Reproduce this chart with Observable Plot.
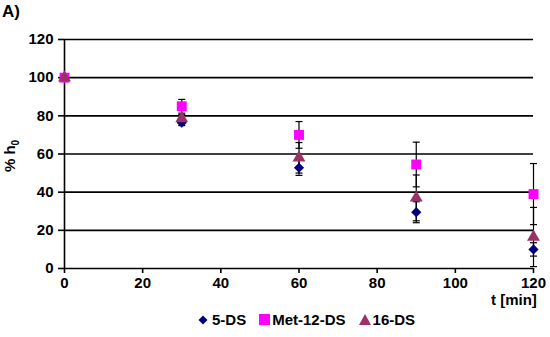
<!DOCTYPE html>
<html><head><meta charset="utf-8">
<script src="https://cdn.jsdelivr.net/npm/d3@7"></script>
<script src="https://cdn.jsdelivr.net/npm/@observablehq/plot@0.6"></script>
<style>
body{margin:0;background:#fff;}
#wrap{position:relative;width:550px;height:337px;font-family:"Liberation Sans",Arial,sans-serif;font-weight:bold;color:#000;}
.lbl{position:absolute;font-size:15px;white-space:nowrap;}
#legend{position:absolute;left:198px;top:311px;font-size:15px;display:flex;align-items:center;white-space:nowrap;}
#legend span{display:inline-flex;align-items:center;margin-right:13px;}
#legend svg{margin-right:2px;}
</style></head>
<body><div id="wrap"></div>
<script>
const times = [0, 30, 60, 90, 120];
const seriesNames = ["5-DS", "Met-12-DS", "16-DS"];
const ds5 = [100, 76.4, 52.8, 29.5, 10];
const ds5Err = [0, 1.5, 4, 5.5, 3.5];
const met12 = [100, 85, 70, 54.5, 39];
const met12Err = [0, 3.6, 7, 11.7, 16];
const ds16 = [100, 78.6, 58, 37, 16.5];
const ds16Err = [0, 2, 8, 12, 15.5];
const colors = ["#000080", "#FF00FF", "#993366"];
const yTicks = [0, 20, 40, 60, 80, 100, 120];
const xTicks = [0, 20, 40, 60, 80, 100, 120];

const vals = [ds5, met12, ds16];
const errs = [ds5Err, met12Err, ds16Err];
const rows = [];
seriesNames.forEach((s, i) => times.forEach((t, j) => rows.push({s, t, v: vals[i][j], e: errs[i][j]})));
const withErr = rows.filter(d => d.e > 0);
const cap = {draw(ctx, size){ const w = Math.sqrt(size / Math.PI); ctx.moveTo(-w, 0); ctx.lineTo(w, 0); }};
const sym = {"5-DS": "diamond2", "Met-12-DS": "square", "16-DS": "triangle"};
const rad = {"5-DS": 4.6, "Met-12-DS": 5.6, "16-DS": 4.8};

const chart = Plot.plot({
  width: 550, height: 337,
  marginLeft: 64, marginRight: 17, marginTop: 39, marginBottom: 69,
  style: {fontFamily: "'Liberation Sans', Arial, sans-serif", fontWeight: "bold", fontSize: "15px", color: "#000", background: "#fff"},
  x: {domain: [0, 120]},
  y: {domain: [0, 120]},
  marks: [
    Plot.gridY(yTicks, {stroke: "#000", strokeOpacity: 1, strokeWidth: 1.6}),
    Plot.ruleX([0], {stroke: "#000", strokeWidth: 1.6}),
    Plot.axisY(yTicks, {tickSize: 6, tickPadding: 5, label: null, stroke: "#000", strokeWidth: 1.6}),
    Plot.axisX(xTicks, {tickSize: 5, tickPadding: 4, label: null, stroke: "#000", strokeWidth: 1.6}),
    Plot.ruleX(withErr, {x: "t", y1: d => d.v - d.e, y2: d => d.v + d.e, stroke: "#000", strokeWidth: 1.2}),
    Plot.dot(withErr, {x: "t", y: d => d.v + d.e, symbol: cap, r: 3.5, fill: "none", stroke: "#000", strokeWidth: 1.2}),
    Plot.dot(withErr, {x: "t", y: d => d.v - d.e, symbol: cap, r: 3.5, fill: "none", stroke: "#000", strokeWidth: 1.2}),
    ...seriesNames.map((s, i) => Plot.dot(rows.filter(d => d.s === s), {x: "t", y: "v", symbol: () => sym[s], r: rad[s], fill: colors[i], stroke: "none"}))
  ]
});
const wrap = document.getElementById("wrap");
wrap.appendChild(chart);

function addLabel(html, css){ const d = document.createElement("div"); d.className = "lbl"; d.innerHTML = html; Object.assign(d.style, css); wrap.appendChild(d); }
addLabel("A)", {left: "2px", top: "2px", fontSize: "17px"});
addLabel("t [min]", {left: "491px", top: "291px"});
addLabel("% h<sub style='font-size:10px'>0</sub>", {left: "-5px", top: "146px", transform: "rotate(-90deg)", transformOrigin: "center"});

const legend = document.createElement("div");
legend.id = "legend";
const icon = {
  "5-DS": '<svg width="12" height="10"><path d="M5 0.5L9.5 5L5 9.5L0.5 5Z" fill="#000080"/></svg>',
  "Met-12-DS": '<svg width="11" height="11"><rect x="0" y="0" width="11" height="11" fill="#FF00FF"/></svg>',
  "16-DS": '<svg width="12" height="11"><path d="M6 0L12 11L0 11Z" fill="#993366"/></svg>'
};
seriesNames.forEach(s => { const sp = document.createElement("span"); sp.innerHTML = icon[s] + s; legend.appendChild(sp); });
wrap.appendChild(legend);
</script></body></html>
